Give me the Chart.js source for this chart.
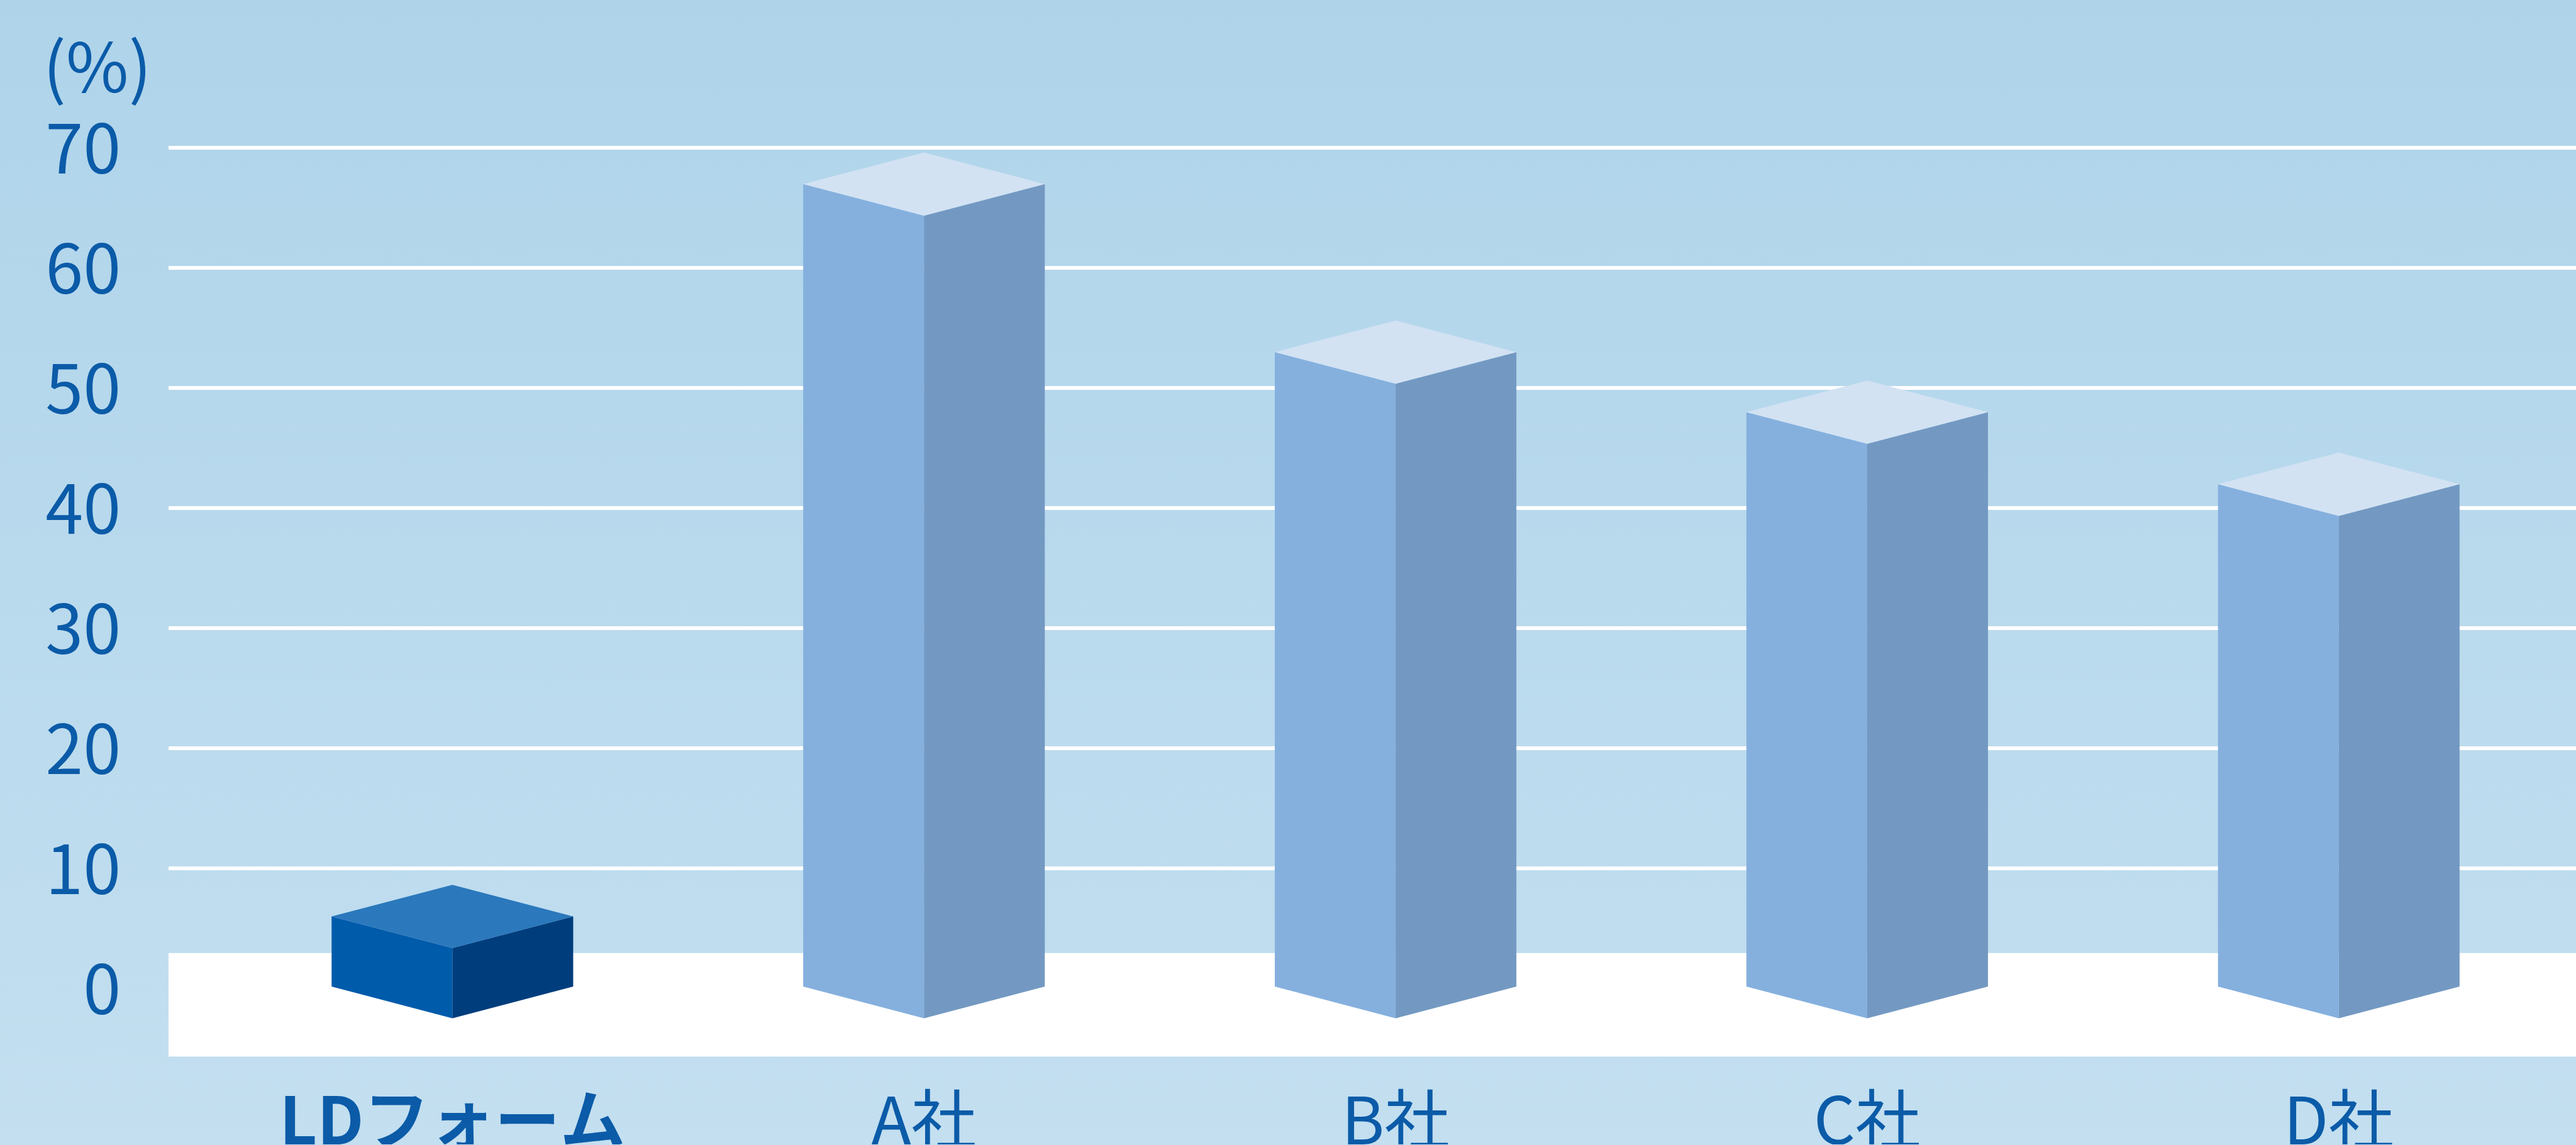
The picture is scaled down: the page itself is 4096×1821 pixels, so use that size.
<!DOCTYPE html>
<html lang="ja">
<head>
<meta charset="utf-8">
<title>LDフォーム 比較</title>
<script src="https://cdn.jsdelivr.net/npm/chart.js@4.4.1/dist/chart.umd.min.js"></script>
<style>
  html, body { margin: 0; padding: 0; }
  body { width: 4096px; height: 1821px; overflow: hidden; background: linear-gradient(#afd4ea, #c3dff0); }
  #wrap { position: relative; width: 4096px; height: 1821px; }
</style>
</head>
<body>
<div id="wrap"><canvas id="chart"></canvas></div>
<script>
// data
const categories = ['LDフォーム', 'A社', 'B社', 'C社', 'D社'];
const values = [6, 67, 53, 48, 42];
const yTicks = [0, 10, 20, 30, 40, 50, 60, 70];
const unitLabel = '(%)';

const S = 0.985; // reference -> window
const FONT = '"Noto Sans CJK JP", "Noto Sans", sans-serif';
const TEXT_BLUE = '#0b5ba8';
const FLOOR_TOP = 2.95; // value where the white floor starts

const highlightFaces = { left: '#005bab', right: '#003d7d', top: '#2b78bc' };
const normalFaces = { left: '#85b0de', right: '#7399c2', top: '#d2e2f3' };

// white floor band under the bars
const floorBand = {
    id: 'floorBand',
    beforeDatasetsDraw(chart) {
        const { ctx, chartArea } = chart;
        const yTop = chart.scales.y.getPixelForValue(FLOOR_TOP);
        ctx.save();
        ctx.fillStyle = '#ffffff';
        ctx.fillRect(chartArea.left, yTop, chartArea.right - chartArea.left, chartArea.bottom - yTop);
        ctx.restore();
    }
};

// draw each bar as a box seen from the front corner
const boxes = {
    id: 'boxes',
    afterDatasetsDraw(chart) {
        const ctx = chart.ctx;
        const meta = chart.getDatasetMeta(0);
        meta.data.forEach((bar, i) => {
            const { x, y, base, width } = bar.getProps(['x', 'y', 'base', 'width'], true);
            const hw = width / 2;
            const d = width * 0.131;
            const c = i === 0 ? highlightFaces : normalFaces;
            ctx.save();
            // left face
            ctx.fillStyle = c.left;
            ctx.beginPath();
            ctx.moveTo(x - hw, y);
            ctx.lineTo(x, y + d);
            ctx.lineTo(x, base + d);
            ctx.lineTo(x - hw, base);
            ctx.closePath();
            ctx.fill();
            // right face
            ctx.fillStyle = c.right;
            ctx.beginPath();
            ctx.moveTo(x + hw, y);
            ctx.lineTo(x, y + d);
            ctx.lineTo(x, base + d);
            ctx.lineTo(x + hw, base);
            ctx.closePath();
            ctx.fill();
            // top
            ctx.fillStyle = c.top;
            ctx.beginPath();
            ctx.moveTo(x - hw, y);
            ctx.lineTo(x, y - d);
            ctx.lineTo(x + hw, y);
            ctx.lineTo(x, y + d);
            ctx.closePath();
            ctx.fill();
            ctx.restore();
        });
    }
};

// "(%)" above the value axis
const unitText = {
    id: 'unitText',
    afterDraw(chart) {
        const { ctx, chartArea } = chart;
        ctx.save();
        ctx.fillStyle = TEXT_BLUE;
        ctx.font = '400 ' + Math.round(110 * S) + 'px ' + FONT;
        ctx.textAlign = 'center';
        ctx.textBaseline = 'middle';
        ctx.fillText(unitLabel, chartArea.left - 115 * S, chartArea.top - 131 * S);
        ctx.restore();
    }
};

const ctx = document.getElementById('chart').getContext('2d');
new Chart(ctx, {
    type: 'bar',
    data: {
        datasets: [{
            data: values.map((v, i) => ({ x: i, y: v })),
            backgroundColor: 'rgba(0,0,0,0)',
            borderWidth: 0,
            barThickness: 390 * S,
            clip: false
        }]
    },
    options: {
        responsive: true,
        maintainAspectRatio: false,
        animation: false,
        events: [],
        layout: { padding: { top: 239 * S, left: 0, right: 0, bottom: 0 } },
        plugins: {
            legend: { display: false },
            tooltip: { enabled: false }
        },
        scales: {
            x: {
                type: 'linear',
                offset: false,
                min: -0.602,
                max: 4.503,
                grid: { display: false, drawTicks: false },
                border: { display: false },
                afterBuildTicks: (scale) => { scale.ticks = categories.map((c, i) => ({ value: i })); },
                afterFit: (scale) => { scale.height = 1821 - 1707 * S; },
                ticks: {
                    padding: 38,
                    color: TEXT_BLUE,
                    maxRotation: 0,
                    autoSkip: false,
                    font: (c) => ({ family: FONT, size: Math.round(106 * S), weight: c.index === 0 ? 'bold' : 400 }),
                    callback: (v) => categories[v]
                }
            },
            y: {
                min: -5.67,
                max: 70,
                grid: { color: '#ffffff', lineWidth: 6, drawTicks: false },
                border: { display: false },
                afterBuildTicks: (scale) => { scale.ticks = yTicks.map((v) => ({ value: v })); },
                afterFit: (scale) => { scale.width = 272 * S; },
                ticks: {
                    padding: 77 * S,
                    color: TEXT_BLUE,
                    font: { family: FONT, size: Math.round(110 * S), weight: 400 }
                }
            }
        }
    },
    plugins: [floorBand, boxes, unitText]
});
</script>
</body>
</html>
